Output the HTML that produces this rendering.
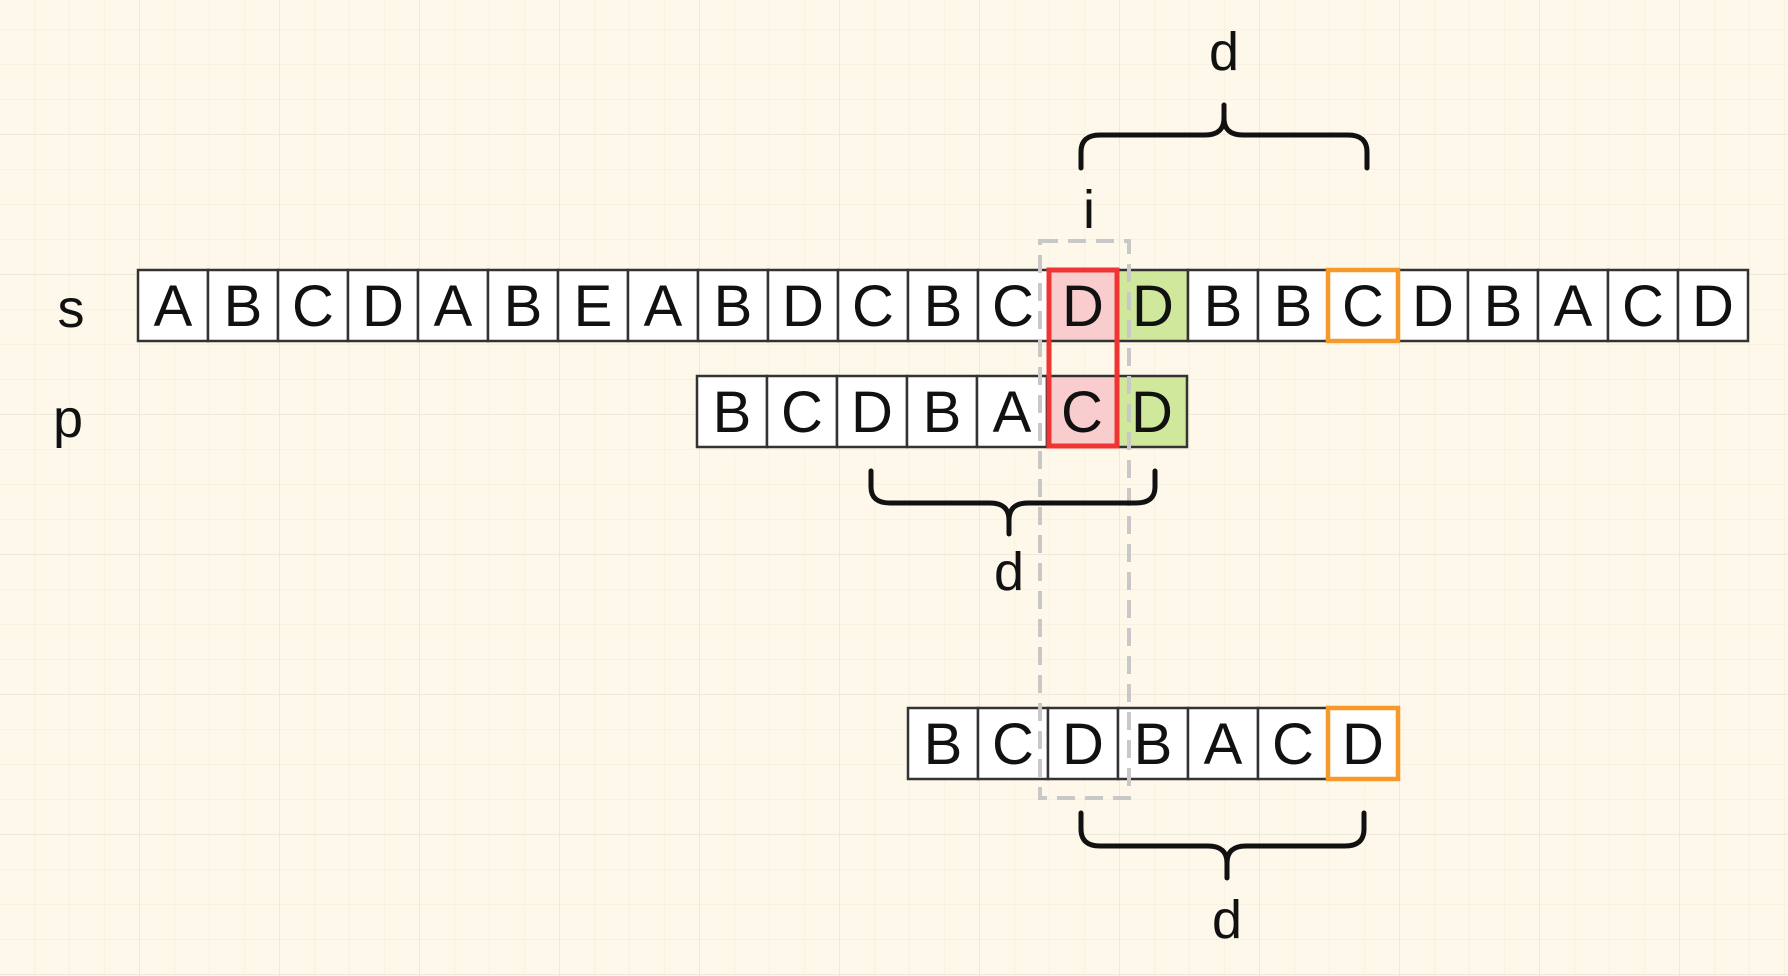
<!DOCTYPE html>
<html><head><meta charset="utf-8"><style>
html,body{margin:0;padding:0}
body{width:1788px;height:976px;overflow:hidden;background:#fdf8e9;}
</style></head><body>
<svg width="1788" height="976" viewBox="0 0 1788 976" xmlns="http://www.w3.org/2000/svg" style="position:absolute;left:0;top:0">
<defs>
<pattern id="mn" x="-1" y="-6" width="35" height="35" patternUnits="userSpaceOnUse"><path d="M0 0H35M0 0V35" stroke="#f1ecdc" stroke-width="1" fill="none"/></pattern>
<pattern id="mj" x="-1" y="-6" width="140" height="140" patternUnits="userSpaceOnUse"><path d="M0 0H140M0 0V140" stroke="#e4e0d0" stroke-width="1.2" fill="none"/></pattern>
</defs>
<rect width="1788" height="976" fill="url(#mn)"/>
<rect width="1788" height="976" fill="url(#mj)"/>
<g font-family="Liberation Sans, sans-serif" font-size="54" text-anchor="middle" fill="#111">
<text x="71" y="327">s</text>
<text x="68" y="437">p</text>
<text x="1224" y="70">d</text>
<text x="1089" y="228">i</text>
<text x="1009" y="590">d</text>
<text x="1227" y="938">d</text>
</g>
<g stroke="#333" stroke-width="2.5" fill="#fff">
<rect x="138" y="270" width="70" height="71"/><rect x="208" y="270" width="70" height="71"/><rect x="278" y="270" width="70" height="71"/><rect x="348" y="270" width="70" height="71"/><rect x="418" y="270" width="70" height="71"/><rect x="488" y="270" width="70" height="71"/><rect x="558" y="270" width="70" height="71"/><rect x="628" y="270" width="70" height="71"/><rect x="698" y="270" width="70" height="71"/><rect x="768" y="270" width="70" height="71"/><rect x="838" y="270" width="70" height="71"/><rect x="908" y="270" width="70" height="71"/><rect x="978" y="270" width="70" height="71"/><rect x="1048" y="270" width="70" height="71" fill="#f9cdcd"/><rect x="1118" y="270" width="70" height="71" fill="#cfe89c"/><rect x="1188" y="270" width="70" height="71"/><rect x="1258" y="270" width="70" height="71"/><rect x="1328" y="270" width="70" height="71"/><rect x="1398" y="270" width="70" height="71"/><rect x="1468" y="270" width="70" height="71"/><rect x="1538" y="270" width="70" height="71"/><rect x="1608" y="270" width="70" height="71"/><rect x="1678" y="270" width="70" height="71"/>
<rect x="697" y="376" width="70" height="71"/><rect x="767" y="376" width="70" height="71"/><rect x="837" y="376" width="70" height="71"/><rect x="907" y="376" width="70" height="71"/><rect x="977" y="376" width="70" height="71"/><rect x="1047" y="376" width="70" height="71" fill="#f9cdcd"/><rect x="1117" y="376" width="70" height="71" fill="#cfe89c"/>
<rect x="908" y="708" width="70" height="71"/><rect x="978" y="708" width="70" height="71"/><rect x="1048" y="708" width="70" height="71"/><rect x="1118" y="708" width="70" height="71"/><rect x="1188" y="708" width="70" height="71"/><rect x="1258" y="708" width="70" height="71"/><rect x="1328" y="708" width="70" height="71"/>
</g>
<g fill="none" stroke="#f59a2a" stroke-width="4.5">
<rect x="1328" y="270" width="70" height="71"/>
<rect x="1328" y="708" width="70" height="71"/>
</g>
<g font-family="Liberation Sans, sans-serif" font-size="58" text-anchor="middle" fill="#111">
<text x="173" y="326">A</text><text x="243" y="326">B</text><text x="313" y="326">C</text><text x="383" y="326">D</text><text x="453" y="326">A</text><text x="523" y="326">B</text><text x="593" y="326">E</text><text x="663" y="326">A</text><text x="733" y="326">B</text><text x="803" y="326">D</text><text x="873" y="326">C</text><text x="943" y="326">B</text><text x="1013" y="326">C</text><text x="1083" y="326">D</text><text x="1153" y="326">D</text><text x="1223" y="326">B</text><text x="1293" y="326">B</text><text x="1363" y="326">C</text><text x="1433" y="326">D</text><text x="1503" y="326">B</text><text x="1573" y="326">A</text><text x="1643" y="326">C</text><text x="1713" y="326">D</text>
<text x="732" y="432">B</text><text x="802" y="432">C</text><text x="872" y="432">D</text><text x="942" y="432">B</text><text x="1012" y="432">A</text><text x="1082" y="432">C</text><text x="1152" y="432">D</text>
<text x="943" y="764">B</text><text x="1013" y="764">C</text><text x="1083" y="764">D</text><text x="1153" y="764">B</text><text x="1223" y="764">A</text><text x="1293" y="764">C</text><text x="1363" y="764">D</text>
</g>
<rect x="1049" y="270" width="68" height="176" fill="none" stroke="#ef3434" stroke-width="5"/>
<rect x="1040" y="241" width="89" height="557" fill="none" stroke="#c8c8c8" stroke-width="4" stroke-dasharray="18,10"/>
<g fill="none" stroke="#111" stroke-width="5" stroke-linecap="round">
<path d="M1081,168 V152 Q1081,135 1100,135 H1205 Q1224,135 1224,118 V105 M1224,118 Q1224,135 1243,135 H1348 Q1367,135 1367,152 V168"/>
<path d="M871,471 V487 Q871,503 890,503 H990 Q1009,503 1009,520 V534 M1009,520 Q1009,503 1028,503 H1136 Q1155,503 1155,487 V471"/>
<path d="M1081,813 V829 Q1081,846 1100,846 H1208 Q1227,846 1227,863 V878 M1227,863 Q1227,846 1246,846 H1345 Q1364,846 1364,829 V813"/>
</g>
</svg>
</body></html>
